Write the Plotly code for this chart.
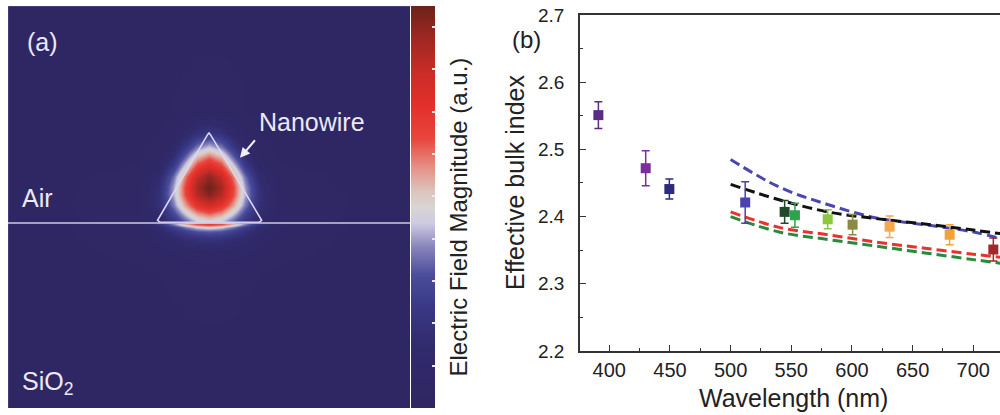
import plotly.graph_objects as go

# ---------------- Panel (a): field map data (a.u.) ----------------
field_x = [-0.783, -0.35, -0.25, -0.18, -0.12, -0.06, 0.0, 0.06, 0.12, 0.18, 0.25, 0.35, 0.783]
field_y = [-0.697, -0.25, -0.14, -0.08, -0.04, -0.02, -0.006, 0.006, 0.04, 0.09,
           0.14, 0.18, 0.23, 0.28, 0.33, 0.38, 0.45, 0.55, 0.903]
field_z = [
    [0.15, 0.15, 0.15, 0.15, 0.15, 0.15, 0.15, 0.15, 0.15, 0.15, 0.15, 0.15, 0.15],
    [0.15, 0.19, 0.24, 0.28, 0.32, 0.34, 0.35, 0.34, 0.32, 0.28, 0.24, 0.19, 0.15],
    [0.15, 0.31, 0.51, 0.69, 0.85, 0.96, 1.00, 0.96, 0.85, 0.69, 0.51, 0.31, 0.15],
    [0.15, 0.43, 0.85, 1.27, 1.65, 1.90, 2.00, 1.90, 1.65, 1.27, 0.85, 0.43, 0.15],
    [0.15, 0.54, 1.25, 2.01, 2.69, 3.21, 3.40, 3.21, 2.69, 2.01, 1.25, 0.54, 0.15],
    [0.15, 0.57, 1.52, 2.62, 3.66, 4.48, 4.80, 4.48, 3.66, 2.62, 1.52, 0.57, 0.15],
    [0.15, 0.78, 2.17, 3.79, 5.32, 6.53, 7.00, 6.53, 5.32, 3.79, 2.17, 0.78, 0.15],
    [0.15, 0.35, 1.05, 2.10, 3.23, 4.21, 4.60, 4.21, 3.23, 2.10, 1.05, 0.35, 0.15],
    [0.15, 0.46, 1.43, 2.77, 4.16, 5.34, 5.80, 5.34, 4.16, 2.77, 1.43, 0.46, 0.15],
    [0.15, 0.56, 1.86, 3.65, 5.51, 7.08, 7.70, 7.08, 5.51, 3.65, 1.86, 0.56, 0.15],
    [0.15, 0.54, 1.97, 4.06, 6.35, 8.31, 9.10, 8.31, 6.35, 4.06, 1.97, 0.54, 0.15],
    [0.15, 0.47, 1.83, 3.99, 6.45, 8.62, 9.50, 8.62, 6.45, 3.99, 1.83, 0.47, 0.15],
    [0.15, 0.39, 1.54, 3.54, 5.93, 8.11, 9.00, 8.11, 5.93, 3.54, 1.54, 0.39, 0.15],
    [0.15, 0.26, 1.00, 2.57, 4.67, 6.72, 7.60, 6.72, 4.67, 2.57, 1.00, 0.26, 0.15],
    [0.15, 0.19, 0.60, 1.71, 3.43, 5.28, 6.10, 5.28, 3.43, 1.71, 0.60, 0.19, 0.15],
    [0.15, 0.17, 0.40, 1.12, 2.33, 3.72, 4.35, 3.72, 2.33, 1.12, 0.40, 0.17, 0.15],
    [0.15, 0.15, 0.24, 0.58, 1.20, 1.95, 2.30, 1.95, 1.20, 0.58, 0.24, 0.15, 0.15],
    [0.15, 0.15, 0.17, 0.25, 0.40, 0.58, 0.66, 0.58, 0.40, 0.25, 0.17, 0.15, 0.15],
    [0.15, 0.15, 0.15, 0.15, 0.15, 0.15, 0.15, 0.15, 0.15, 0.15, 0.15, 0.15, 0.15],
]
colorbar_ticks = [1, 2, 3, 4, 5, 6, 7, 8, 9]

# nanowire cross-section outline (triangle with slightly rounded corners)
wire_x = [-0.243, -0.256, -0.007, 0.0, 0.007, 0.262, 0.249, -0.243]
wire_y = [0.004, 0.014, 0.440, 0.448, 0.440, 0.014, 0.004, 0.004]

# ---------------- Panel (b): measured points ----------------
pt_wl = [391, 430, 449.5, 512, 544.5, 553, 580, 600.5, 631, 680.5, 716.5]
pt_n = [2.551, 2.472, 2.441, 2.421, 2.407, 2.402, 2.396, 2.388, 2.385, 2.373, 2.351]
pt_err = [0.020, 0.026, 0.015, 0.031, 0.017, 0.018, 0.014, 0.015, 0.016, 0.015, 0.017]
pt_colors = ['#5b2c83', '#7b2d9c', '#2e2a80', '#4b40b0', '#224a2a', '#2ea24c',
             '#8dc63f', '#8a8a42', '#f6a94c', '#f2a23a', '#a2282a']

# ---------------- Panel (b): calculated curves ----------------
line_wl = [500, 540, 580, 620, 660, 700, 725]
curve_blue = [2.485, 2.444, 2.418, 2.398, 2.388, 2.377, 2.366]
curve_black = [2.448, 2.425, 2.407, 2.397, 2.389, 2.380, 2.374]
curve_red = [2.407, 2.384, 2.373, 2.362, 2.353, 2.344, 2.339]
curve_green = [2.400, 2.377, 2.366, 2.356, 2.346, 2.336, 2.330]
curve_colors = ['#4a48b0', '#111111', '#e8332b', '#2a8a3c']

y_ticks = [2.2, 2.3, 2.4, 2.5, 2.6, 2.7]
x_ticks = [400, 450, 500, 550, 600, 650, 700]

FONT = "Liberation Sans, Arial, sans-serif"

colorscale = [
    [0.0, '#2f2762'], [0.15, '#312a6c'], [0.26, '#3a3a88'], [0.33, '#4a4c9c'],
    [0.40, '#8884ba'], [0.46, '#cfcbe2'], [0.50, '#d8d4d4'], [0.54, '#dcc4bc'],
    [0.60, '#e68e84'], [0.67, '#e8463e'], [0.75, '#e4302b'], [0.84, '#c82c26'],
    [0.92, '#9e2822'], [1.0, '#6c221a'],
]

fig = go.Figure()

fig.add_trace(go.Heatmap(
    x=field_x, y=field_y, z=field_z, zsmooth='best', zmin=0, zmax=9.5,
    colorscale=colorscale, xaxis='x', yaxis='y', hoverinfo='skip',
    colorbar=dict(
        x=0.411, xanchor='left', xpad=0, xref='paper',
        y=0.0169, yanchor='bottom', ypad=0, yref='paper',
        len=0.9686, lenmode='fraction', thickness=24, thicknessmode='pixels',
        outlinewidth=0, ticks='inside', ticklen=3, tickwidth=2,
        tickcolor='#f0e8e8', tickvals=colorbar_ticks, showticklabels=False,
    ),
))

fig.add_trace(go.Scatter(
    x=wire_x, y=wire_y, mode='lines', xaxis='x', yaxis='y',
    line=dict(color='#ddd8f2', width=1.6), hoverinfo='skip', showlegend=False,
))

for vals, col in zip([curve_blue, curve_black, curve_red, curve_green], curve_colors):
    fig.add_trace(go.Scatter(
        x=line_wl, y=vals, mode='lines', xaxis='x2', yaxis='y2',
        line=dict(color=col, width=3, dash='10px,5px', shape='spline'),
        showlegend=False,
    ))

for wl, n, e, c in zip(pt_wl, pt_n, pt_err, pt_colors):
    fig.add_trace(go.Scatter(
        x=[wl], y=[n], mode='markers', xaxis='x2', yaxis='y2',
        marker=dict(symbol='square', size=10, color=c, line=dict(width=0)),
        error_y=dict(type='data', array=[e], color=c, thickness=1.5, width=4),
        showlegend=False,
    ))

fig.update_layout(
    width=1000, height=415,
    margin=dict(l=0, r=0, t=0, b=0),
    paper_bgcolor='white', plot_bgcolor='white',
    showlegend=False,
    font=dict(family=FONT, color='#222222'),
    xaxis=dict(domain=[0.008, 0.41], range=[-1, 1], showticklabels=False,
               showgrid=False, zeroline=False, ticks='', automargin=False),
    yaxis=dict(domain=[0.0169, 0.9855], range=[-0.92, 1.08], showticklabels=False,
               showgrid=False, zeroline=False, ticks='', automargin=False),
    xaxis2=dict(domain=[0.58, 1.0], range=[375.85, 722.0], anchor='y2',
                tickvals=x_ticks, ticks='inside', ticklen=6, tickwidth=1.3,
                tickcolor='#333333', showline=True, linecolor='#333333',
                linewidth=1.5, mirror=True, showgrid=False, zeroline=False,
                tickfont=dict(family=FONT, size=20, color='#222222'),
                ticklabelstandoff=0, automargin=False,
                minor=dict(ticks='inside', ticklen=3, dtick=25, tick0=375,
                           tickcolor='#333333', tickwidth=1.2, showgrid=False)),
    yaxis2=dict(domain=[0.1542, 0.9639], range=[2.2, 2.7], anchor='x2',
                tickvals=y_ticks, ticks='inside', ticklen=6, tickwidth=1.3,
                tickcolor='#333333', showline=True, linecolor='#333333',
                linewidth=1.5, mirror=False, showgrid=False, zeroline=False,
                tickfont=dict(family=FONT, size=19, color='#222222'),
                ticklabelstandoff=10, automargin=False,
                minor=dict(ticks='inside', ticklen=3, dtick=0.05, tick0=2.2,
                           tickcolor='#333333', tickwidth=1.2, showgrid=False)),
    shapes=[
        dict(type='line', xref='x domain', yref='y', x0=0, x1=1, y0=0, y1=0,
             line=dict(color='#cfcae6', width=1.5), layer='above'),
    ],
)

white_txt = dict(family=FONT, size=25, color='#ece8f4')
annotations = [
    dict(text='(a)', x=0.025, y=1 - 42 / 415, xref='paper', yref='paper',
         xanchor='left', yanchor='middle', showarrow=False, font=white_txt),
    dict(text='Air', x=0.020, y=1 - 198 / 415, xref='paper', yref='paper',
         xanchor='left', yanchor='middle', showarrow=False, font=white_txt),
    dict(text='SiO<sub>2</sub>', x=0.020, y=1 - 383 / 415, xref='paper', yref='paper',
         xanchor='left', yanchor='middle', showarrow=False, font=white_txt),
    dict(text='Nanowire', x=0.257, y=1 - 122 / 415, xref='paper', yref='paper',
         xanchor='left', yanchor='middle', showarrow=False, font=white_txt),
    dict(text=' ', x=0.154, y=0.325, xref='x', yref='y', showarrow=True,
         ax=18, ay=-21, arrowhead=2, arrowsize=1, arrowwidth=2,
         arrowcolor='#f2eef8'),
    dict(text='Electric Field Magnitude (a.u.)', x=0.4575, y=1 - 217 / 415,
         xref='paper', yref='paper', xanchor='center', yanchor='middle',
         textangle=-90, showarrow=False,
         font=dict(family=FONT, size=24, color='#222222')),
    dict(text='(b)', x=0.510, y=1 - 40 / 415, xref='paper', yref='paper',
         xanchor='left', yanchor='middle', showarrow=False,
         font=dict(family=FONT, size=24, color='#222222')),
    dict(text='Effective bulk index', x=0.515, y=1 - 183 / 415,
         xref='paper', yref='paper', xanchor='center', yanchor='middle',
         textangle=-90, showarrow=False,
         font=dict(family=FONT, size=25, color='#222222')),
    dict(text='Wavelength (nm)', x=0.793, y=1 - 398 / 415,
         xref='paper', yref='paper', xanchor='center', yanchor='middle',
         showarrow=False, font=dict(family=FONT, size=25, color='#222222')),
]
fig.update_layout(annotations=annotations)

fig.write_html("out.html", config={'displayModeBar': False},
               post_script="document.body.style.margin='0px';")
